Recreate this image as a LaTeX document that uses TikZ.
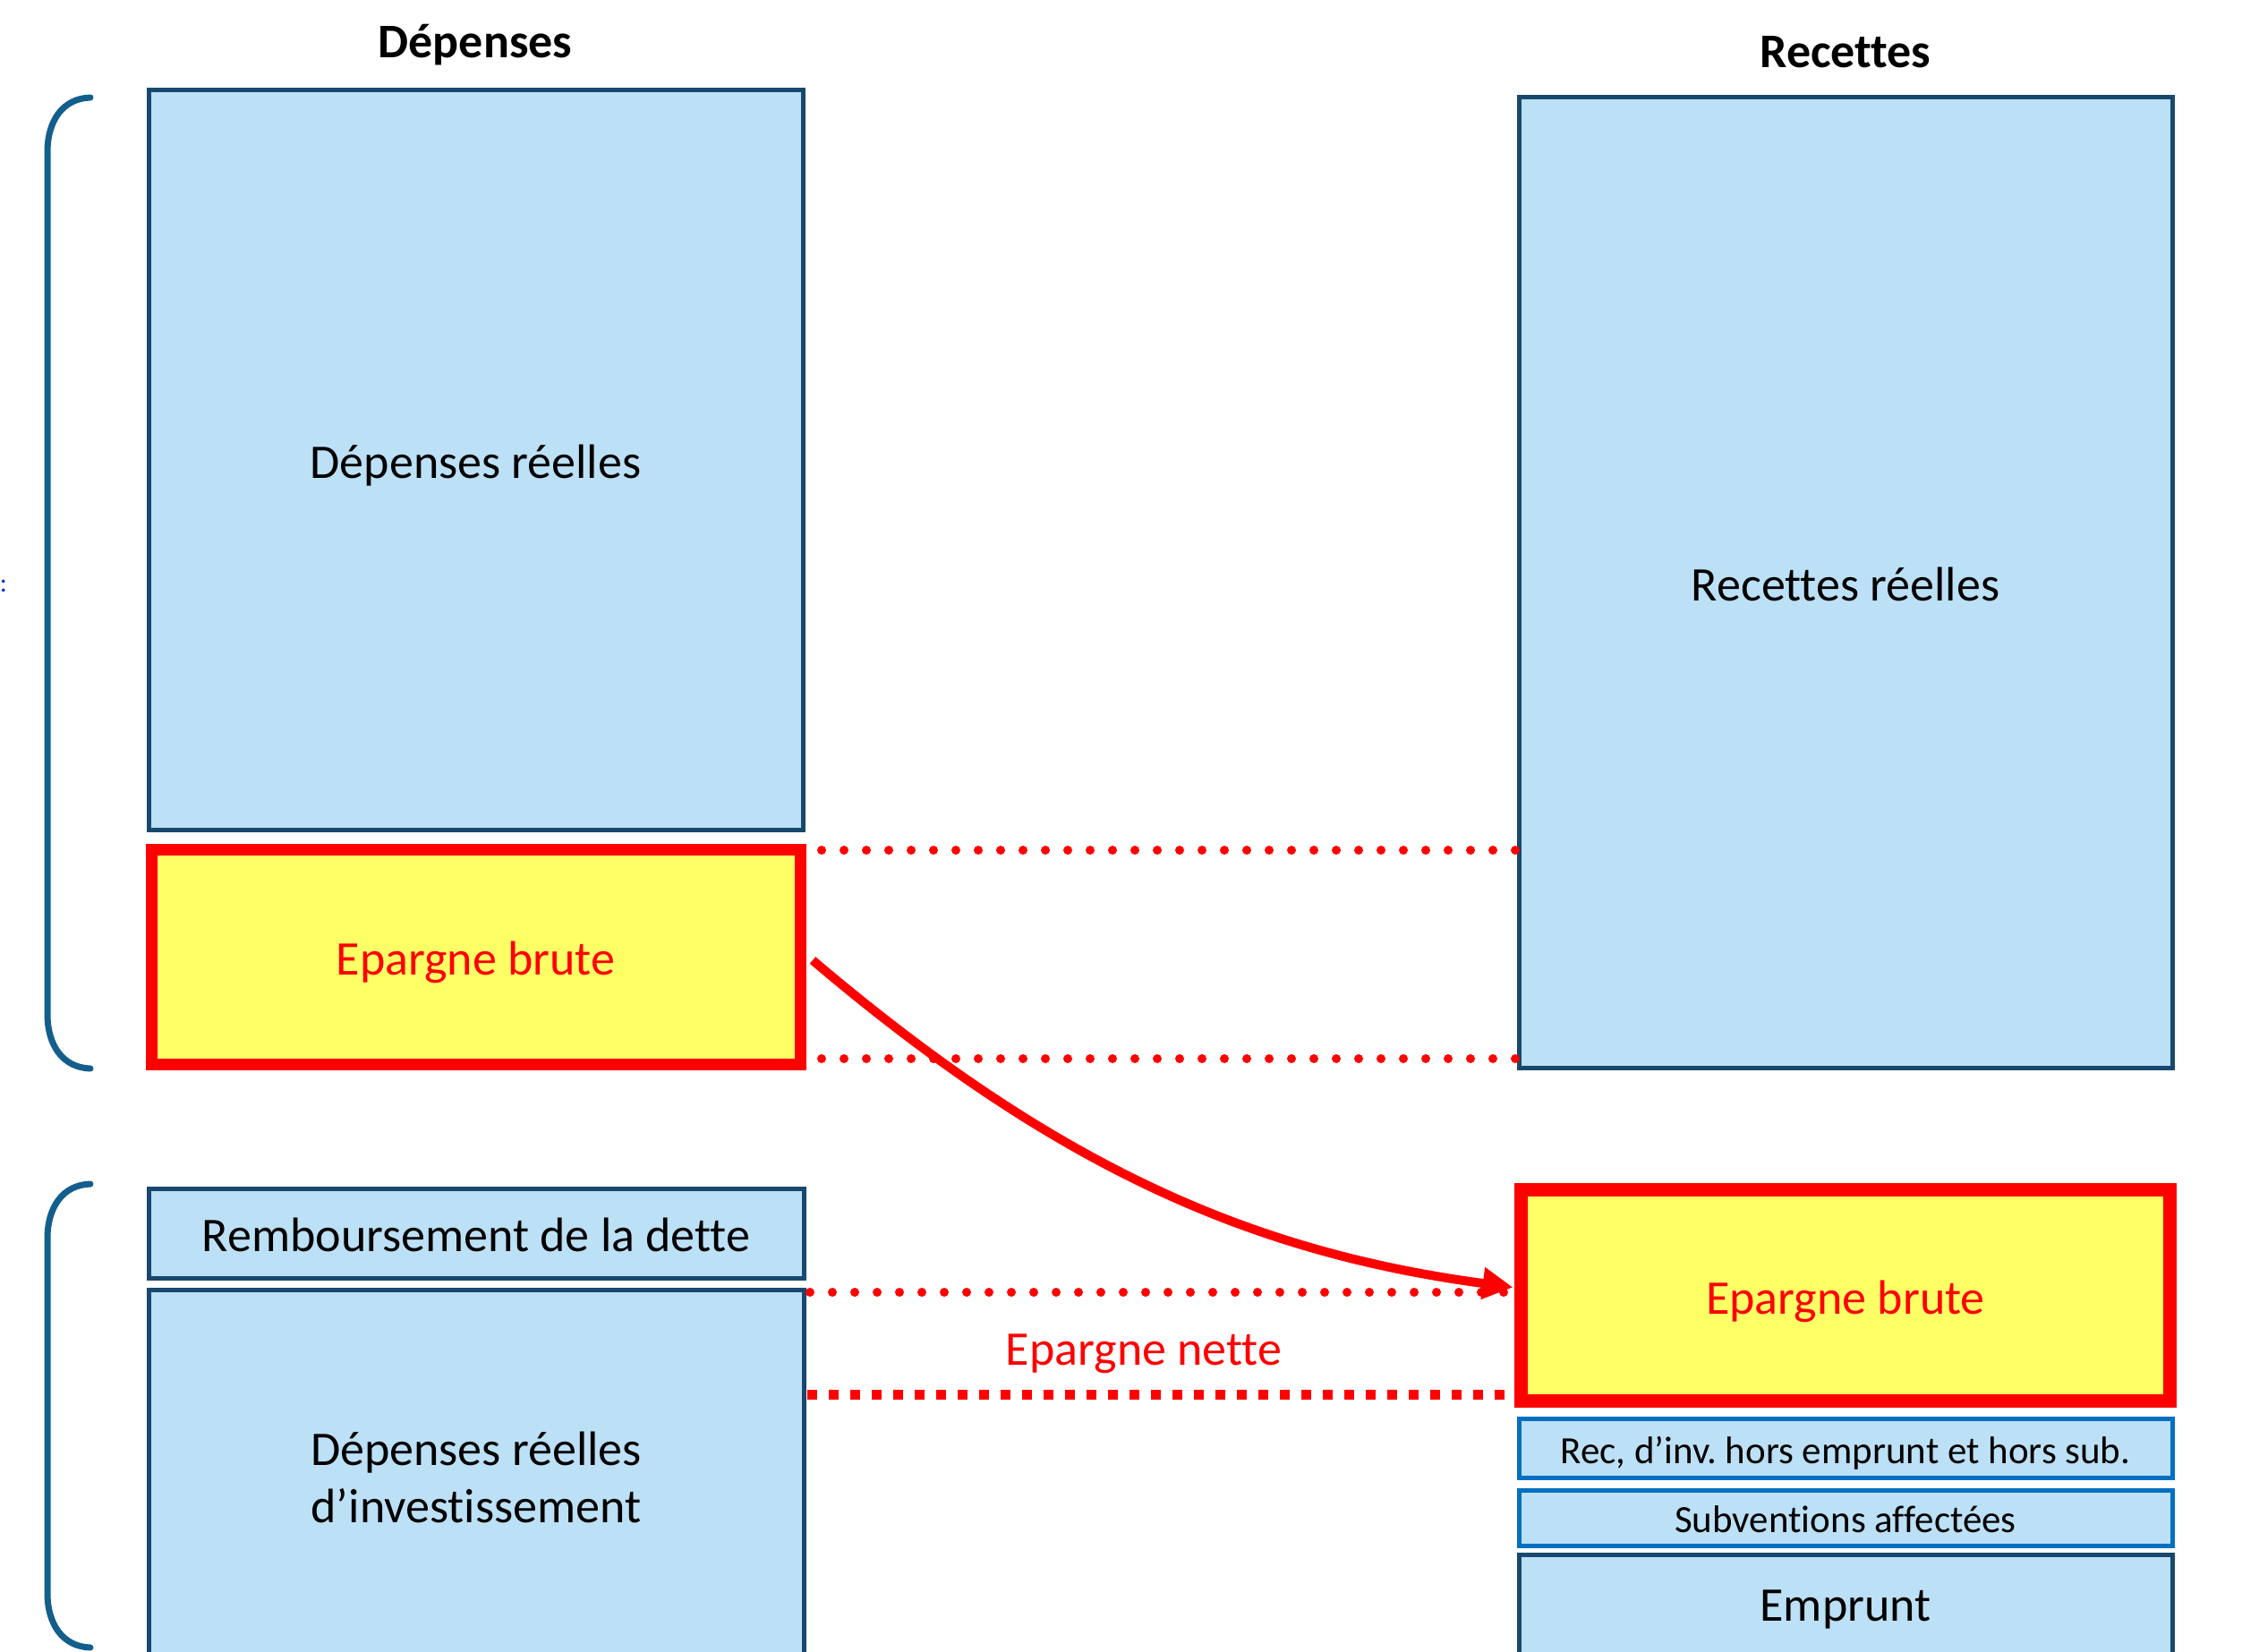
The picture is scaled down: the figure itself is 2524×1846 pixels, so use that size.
\documentclass[tikz,border=0pt]{standalone}
\usepackage{fontspec}
\setmainfont{Carlito}[Ligatures=NoCommon]
\usetikzlibrary{arrows.meta}
\frenchspacing
\definecolor{boxfill}{RGB}{188,224,246}
\definecolor{boxline}{RGB}{24,72,110}
\definecolor{brightline}{RGB}{0,112,192}
\definecolor{bracecol}{RGB}{18,94,140}
\definecolor{ebfill}{RGB}{255,255,102}
\definecolor{ebred}{RGB}{255,0,0}
\definecolor{colonblue}{RGB}{0,50,200}
\tikzset{
  big/.style={font=\fontsize{54}{64}\selectfont},
  small/.style={font=\fontsize{43}{52}\selectfont},
  lowbig/.style={text height=52pt, text depth=11pt},
  lowsmall/.style={text height=42pt, text depth=9pt},
  bluebox/.style={draw=boxline, fill=boxfill, line width=5pt, inner sep=0pt, outer sep=0pt, align=center, big},
  thinbox/.style={draw=brightline, fill=boxfill, line width=5pt, inner sep=0pt, outer sep=0pt, small, lowsmall},
  ebbox/.style={draw=ebred, fill=ebfill, inner sep=0pt, outer sep=0pt, text=ebred, big, lowbig},
  title/.style={font=\fontsize{54}{64}\selectfont\bfseries},
  brace/.style={draw=bracecol, line width=7pt, line cap=round},
  dotline/.style={draw=ebred, line width=10pt, line cap=round, dash pattern=on 0pt off 25pt},
  sqdotline/.style={draw=ebred, line width=11pt, dash pattern=on 11pt off 13pt},
  flow/.style={draw=ebred, line width=10pt, -{Triangle[length=34pt,width=34pt]}}
}
\begin{document}
\begin{tikzpicture}[x=1pt,y=-1pt]
\useasboundingbox[fill=white] (0,0) rectangle (2524,1846);

% titles
\node[title] (tdep) at (531,50) {Dépenses};
\node[title] (trec) at (2062,58) {Recettes};

% stray colon at left edge
\node[text=colonblue, font=\fontsize{30}{36}\selectfont, anchor=east, inner sep=0pt] (colon) at (8,655) {:};

% left column
\node[bluebox, lowbig, minimum width=731pt, minimum height=826pt] (DR) at (531.5,514) {Dépenses réelles};
\node[ebbox, line width=13pt, minimum width=725pt, minimum height=240pt] (EBL) at (531.5,1069) {Epargne brute};
\node[bluebox, lowbig, minimum width=732pt, minimum height=100pt] (RD) at (532,1378) {Remboursement de la dette};
\node[bluebox, minimum width=732pt, minimum height=419pt] (DRI) at (532,1650.5) {Dépenses réelles\\d’investissement};

% right column
\node[bluebox, lowbig, minimum width=730pt, minimum height=1084pt] (RR) at (2062,651) {Recettes réelles};
\node[ebbox, line width=15pt, minimum width=725pt, minimum height=236pt] (EBR) at (2062,1447.5) {Epargne brute};
\node[thinbox, minimum width=730pt, minimum height=66pt] (REC) at (2062,1618.5) {Rec, d’inv. hors emprunt et hors sub.};
\node[thinbox, minimum width=730pt, minimum height=62pt] (SUB) at (2062,1696) {Subventions affectées};
\node[bluebox, minimum width=730pt, minimum height=123pt] (EMP) at (2062,1798.5) {Emprunt};

% braces
\coordinate (b1t) at (101,109);
\coordinate (b1b) at (101,1194);
\coordinate (b2t) at (101,1323);
\coordinate (b2b) at (101,1841);
\draw[brace] (b1t) .. controls +(-31,1) and +(0,-35) .. (53,170) -- (53,1133) .. controls +(0,35) and +(-31,-1) .. (b1b);
\draw[brace] (b2t) .. controls +(-31,1) and +(0,-35) .. (53,1384) -- (53,1780) .. controls +(0,35) and +(-31,-1) .. (b2b);

% dotted guide lines
\coordinate (d1a) at (918,950);
\coordinate (d1b) at (1693,950);
\coordinate (d2a) at (918,1183);
\coordinate (d2b) at (1693,1183);
\coordinate (d3a) at (905,1444);
\coordinate (d3b) at (1680,1444);
\coordinate (d4a) at (902,1558);
\coordinate (d4b) at (1689,1558);
\draw[dotline] (d1a) -- (d1b);
\draw[dotline] (d2a) -- (d2b);
\draw[dotline] (d3a) -- (d3b);
\draw[sqdotline] (d4a) -- (d4b);

\node[text=ebred, big, lowbig] (EN) at (1278,1505) {Epargne nette};

% curved arrow
\draw[flow] ([xshift=14pt,yshift=-4pt]EBL.east) .. controls +(265,225) and +(-300,-40) .. ([xshift=-9pt,yshift=9pt]EBR.west);
\end{tikzpicture}
\end{document}
